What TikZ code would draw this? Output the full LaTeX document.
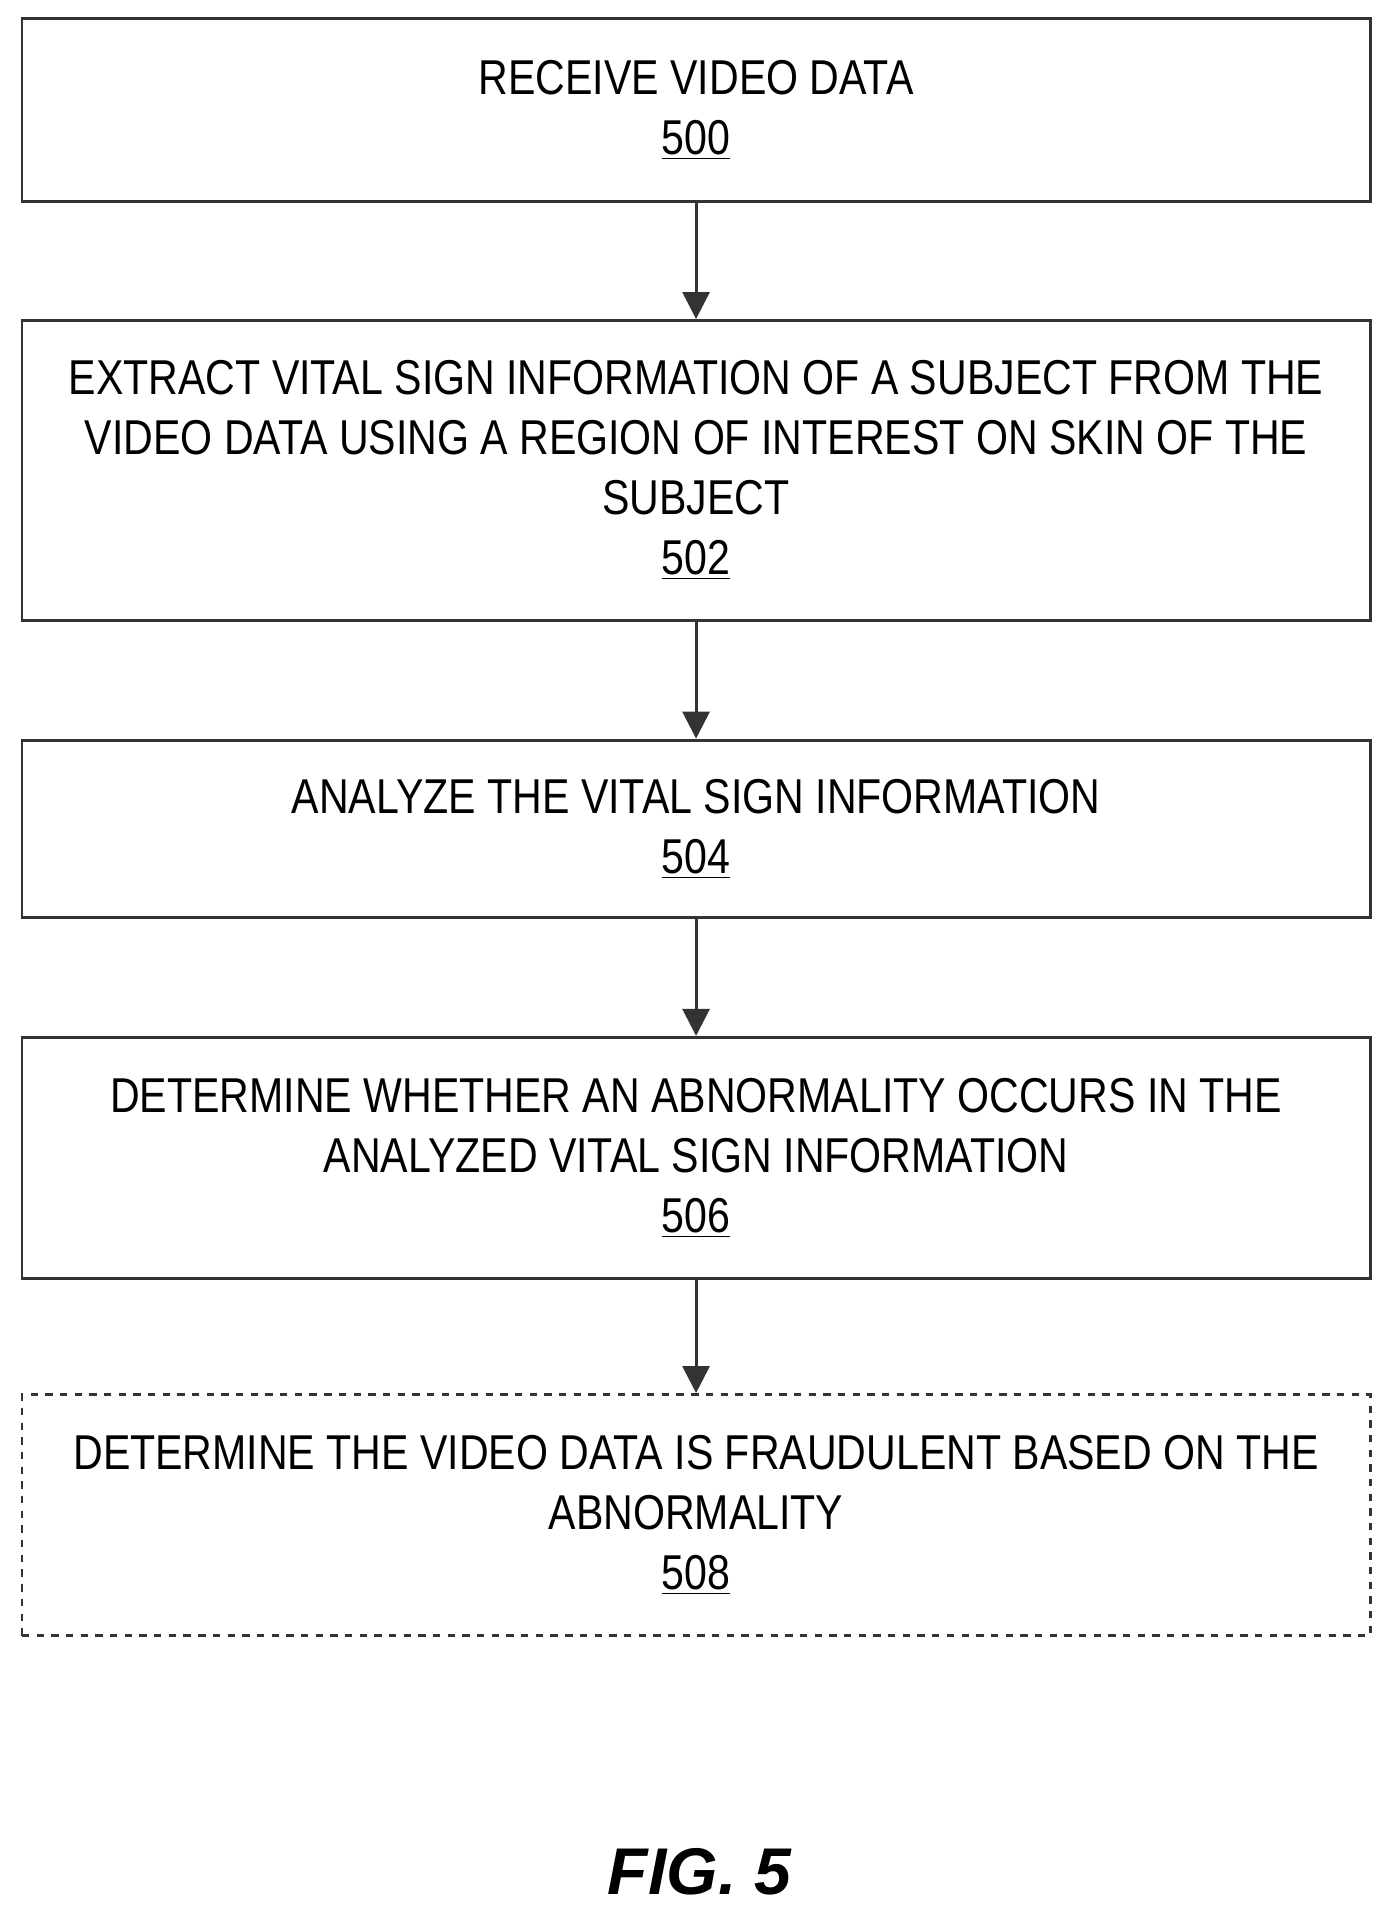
\documentclass[tikz,border=0pt]{standalone}
\usepackage{fontspec}
\setmainfont{Liberation Sans}[FakeStretch=0.84]
\newfontfamily\figfont{Liberation Sans}
\usetikzlibrary{arrows.meta}
\begin{document}
\begin{tikzpicture}[x=0.5pt,y=-0.5pt,
  stepbox/.style={draw=black!80,line width=1.2pt,minimum width=551pt,align=center,inner sep=0pt,font=\fontsize{20}{24.5}\selectfont},
  optbox/.style={stepbox,dashed},
  arr/.style={draw=black!80,line width=1.2pt,-{Triangle[length=11pt,width=11pt]}}]
\useasboundingbox (0,0) rectangle (1140,1572);
\node[stepbox,minimum height=75pt] (b1) at (569,90) {RECEIVE VIDEO DATA\\\underline{500}};
\node[stepbox,minimum height=122.5pt] (b2) at (569,384.5) {EXTRACT VITAL SIGN INFORMATION OF A SUBJECT FROM THE\\VIDEO DATA USING A REGION OF INTEREST ON SKIN OF THE\\SUBJECT\\\underline{502}};
\node[stepbox,minimum height=72.5pt] (b3) at (569,677.5) {ANALYZE THE VITAL SIGN INFORMATION\\\underline{504}};
\node[stepbox,minimum height=98.5pt] (b4) at (569,946.5) {DETERMINE WHETHER AN ABNORMALITY OCCURS IN THE\\ANALYZED VITAL SIGN INFORMATION\\\underline{506}};
\node[optbox,minimum height=98.5pt] (b5) at (569,1238.5) {DETERMINE THE VIDEO DATA IS FRAUDULENT BASED ON THE\\ABNORMALITY\\\underline{508}};
\draw[arr] (b1) -- (b2);
\draw[arr] (b2) -- (b3);
\draw[arr] (b3) -- (b4);
\draw[arr] (b4) -- (b5);
\node[font=\figfont\bfseries\itshape\fontsize{27}{30}\selectfont] (fig) at (572,1530) {FIG. 5};
\end{tikzpicture}
\end{document}
